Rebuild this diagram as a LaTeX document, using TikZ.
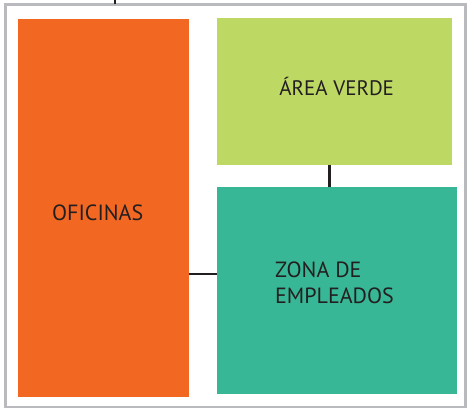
\documentclass[tikz,border=0pt]{standalone}
\usepackage{fontspec}
\setmainfont{PT Sans}
\usepackage{xcolor}
\usetikzlibrary{positioning}
\definecolor{officeorange}{RGB}{242,104,34}
\definecolor{greenarea}{RGB}{190,216,100}
\definecolor{staffteal}{RGB}{55,183,149}
\definecolor{darkline}{RGB}{35,31,32}
\definecolor{framegray}{RGB}{185,186,189}

\begin{document}
\begin{tikzpicture}[
	x=1pt, y=1pt,
	zone/.style={rectangle, inner sep=0pt, anchor=south west, align=left, text=darkline, font=\fontsize{22}{26}\selectfont},
	link/.style={line width=2.8pt, color=darkline}
	]
	\useasboundingbox (0,0) rectangle (467,409);
	% Frame
	\draw[framegray, line width=2.8pt] (5.5,2) rectangle (465.5,404.5);
	\coordinate (entry) at (115,409);
	\coordinate (entryfoot) at (115,404.5);
	
	% Define nodes
	\node[zone, fill=officeorange, minimum width=171pt, minimum height=378pt] (oficinas) at (18,12) {\raisebox{-12.7pt}[0pt][0pt]{OFICINAS}\hspace{12pt}};
	\node[zone, fill=greenarea, minimum width=235pt, minimum height=147pt] (verde) at (217,244) {\hspace{4pt}\raisebox{-4.2pt}[0pt][0pt]{\fontsize{21}{26}\selectfont ÁREA VERDE}};
	\node[zone, fill=staffteal, minimum width=240pt, minimum height=207pt] (empleados) at (217,15) {\raisebox{-13.2pt}[0pt][0pt]{\parbox[b]{118pt}{ZONA DE\\EMPLEADOS}}\hspace{6pt}};
	
	% Connectors
	\draw[link] (entryfoot) -- (entry);
	\draw[link] (oficinas.east |- 0,135) -- (empleados.west |- 0,135);
	\draw[link] (verde.south -| 329.5,0) -- (empleados.north -| 329.5,0);
\end{tikzpicture}
\end{document}
